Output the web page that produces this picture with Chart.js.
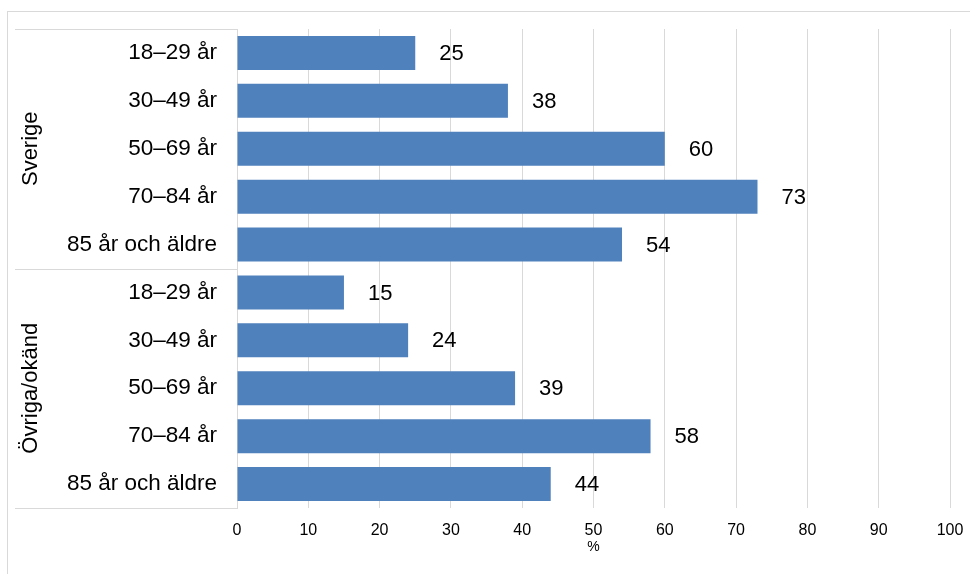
<!DOCTYPE html>
<html lang="sv">
<head>
    <meta charset="UTF-8">
    <title>Andel per åldersgrupp</title>
    <script src="https://cdn.jsdelivr.net/npm/chart.js"></script>
    <style>
        body {
            margin: 0;
            background: #ffffff;
        }
        canvas {
            display: block;
        }
    </style>
</head>
<body>
    <canvas id="chart" width="970" height="574"></canvas>

    <script>
        // data
        const groups = ['Sverige', 'Övriga/okänd'];
        const ageGroups = ['18–29 år', '30–49 år', '50–69 år', '70–84 år', '85 år och äldre'];
        const sverige = [25, 38, 60, 73, 54];
        const ovriga = [15, 24, 39, 58, 44];
        const xMin = 0, xMax = 100, xStep = 10;
        const xTitle = '%';

        const FONT = 'Arial, "Liberation Sans", sans-serif';
        const GRID = '#d9d9d9';

        const labels = ageGroups.concat(ageGroups);
        const values = sverige.concat(ovriga);

        // outer frame
        const framePlugin = {
            id: 'frame',
            beforeDraw(chart) {
                const c = chart.ctx;
                c.save();
                c.strokeStyle = GRID;
                c.lineWidth = 1;
                c.strokeRect(7.5, 11.5, 1000, 1000);
                c.restore();
            }
        };

        // group labels + separator lines in the label column
        const groupPlugin = {
            id: 'groups',
            afterDraw(chart) {
                const c = chart.ctx;
                const area = chart.chartArea;
                const per = ageGroups.length;
                const step = (area.bottom - area.top) / labels.length;
                c.save();
                c.strokeStyle = GRID;
                c.lineWidth = 1;
                for (let g = 0; g <= groups.length; g++) {
                    const yy = Math.round(area.top + g * per * step) + 0.5;
                    c.beginPath();
                    c.moveTo(15, yy);
                    c.lineTo(area.left, yy);
                    c.stroke();
                }
                c.fillStyle = '#000';
                c.font = '22px ' + FONT;
                c.textAlign = 'center';
                c.textBaseline = 'middle';
                groups.forEach((name, g) => {
                    const cy = area.top + (g * per + per / 2) * step;
                    c.save();
                    c.translate(31, cy);
                    c.rotate(-Math.PI / 2);
                    c.fillText(name, 0, 0);
                    c.restore();
                });
                c.restore();
            }
        };

        // value labels next to bars
        const valuePlugin = {
            id: 'values',
            afterDatasetsDraw(chart) {
                const c = chart.ctx;
                const meta = chart.getDatasetMeta(0);
                c.save();
                c.fillStyle = '#000';
                c.font = '22px ' + FONT;
                c.textAlign = 'left';
                c.textBaseline = 'middle';
                meta.data.forEach((bar, i) => {
                    c.fillText(values[i], bar.x + 24, bar.y + 1);
                });
                c.restore();
            }
        };

        new Chart(document.getElementById('chart'), {
            type: 'bar',
            data: {
                labels: labels,
                datasets: [{
                    data: values,
                    backgroundColor: '#4f81bd',
                    borderWidth: 0,
                    categoryPercentage: 1,
                    barPercentage: 0.71
                }]
            },
            options: {
                indexAxis: 'y',
                responsive: false,
                animation: false,
                layout: {
                    padding: { left: 15, top: 29, right: 20, bottom: 0 }
                },
                plugins: {
                    legend: { display: false },
                    tooltip: { enabled: false }
                },
                scales: {
                    x: {
                        min: xMin,
                        max: xMax,
                        ticks: {
                            stepSize: xStep,
                            color: '#000',
                            padding: 13,
                            font: { family: FONT, size: 16 }
                        },
                        grid: {
                            color: GRID,
                            drawTicks: false
                        },
                        border: { display: false },
                        title: {
                            display: true,
                            text: xTitle,
                            color: '#000',
                            font: { family: FONT, size: 14 },
                            padding: { top: 0, bottom: 18 }
                        },
                        afterFit(scale) {
                            scale.height = 66;
                            scale.paddingLeft = 0;
                            scale.paddingRight = 0;
                        }
                    },
                    y: {
                        ticks: {
                            color: '#000',
                            padding: 12,
                            font: { family: FONT, size: 22.5 }
                        },
                        grid: { display: false },
                        border: { display: true, color: GRID },
                        afterFit(scale) {
                            scale.width = 222;
                            scale.paddingTop = 0;
                            scale.paddingBottom = 0;
                        }
                    }
                }
            },
            plugins: [framePlugin, groupPlugin, valuePlugin]
        });
    </script>
</body>
</html>
